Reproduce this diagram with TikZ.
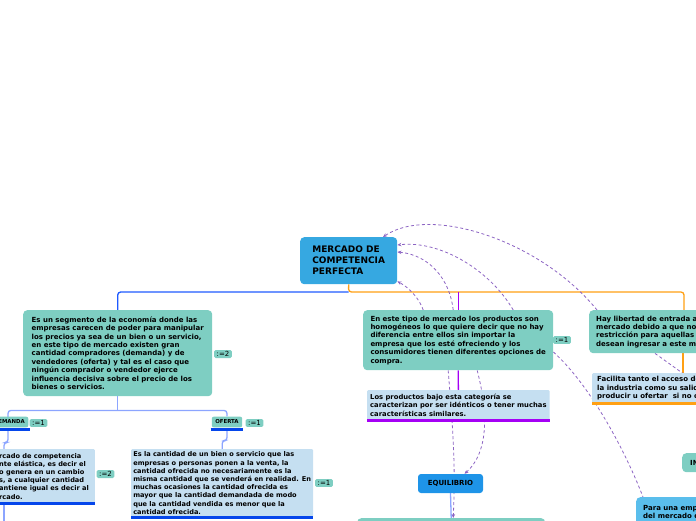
\documentclass[tikz,border=0pt]{standalone}
\usepackage{fontspec}
\setmainfont{DejaVu Sans}
\usepackage{xcolor}
\usetikzlibrary{arrows.meta,backgrounds}

\definecolor{topicblue}{RGB}{54,168,225}
\definecolor{tealfill}{RGB}{126,206,194}
\definecolor{notefill}{RGB}{197,223,241}
\definecolor{skyfill}{RGB}{90,190,236}
\definecolor{eqfill}{RGB}{30,148,232}
\definecolor{branchblue}{RGB}{30,90,255}
\definecolor{softblue}{RGB}{140,165,255}
\definecolor{barblue}{RGB}{5,70,235}
\definecolor{branchpurple}{RGB}{165,0,245}
\definecolor{branchorange}{RGB}{255,160,20}
\definecolor{relpurple}{RGB}{140,100,195}

\begin{document}
\begin{tikzpicture}[x=1pt, y=-1pt,
  font=\bfseries\fontsize{7}{8.4}\selectfont,
  topic/.style={fill=tealfill, rounded corners=4pt, anchor=north west,
                align=left, inner xsep=7pt, inner ysep=0pt},
  note/.style={fill=notefill, rounded corners=1pt, anchor=north west,
               align=left, inner xsep=5pt, inner ysep=0pt},
  small/.style={font=\bfseries\fontsize{6.6}{8.2}\selectfont},
  tagbox/.style={fill=tealfill, rounded corners=1.5pt, inner xsep=2.5pt, inner ysep=1.4pt,
                 font=\mdseries\fontsize{7}{7}\selectfont},
  headbox/.style={fill=tealfill, rounded corners=2pt, inner xsep=3.5pt, minimum height=10pt,
                  font=\bfseries\fontsize{5.4}{6}\selectfont},
  branch/.style={line width=1.3pt, rounded corners=3pt},
  underbar/.style={line width=2.6pt},
  relline/.style={relpurple, line width=0.8pt, dash pattern=on 3pt off 2.5pt},
  relarrow/.style={relline, -{Stealth[length=4pt, width=3.5pt]}}]
\useasboundingbox (0,0) rectangle (696,520);
% --- central topic ---
\node[fill=topicblue, rounded corners=4pt, anchor=north west, minimum width=97pt,
      minimum height=47pt, align=left, font=\bfseries\fontsize{9}{11}\selectfont]
  (mercado) at (300,237) {MERCADO DE\\COMPETENCIA\\PERFECTA};
% --- first level ---
\node[topic, minimum width=189pt, minimum height=86pt] (segmento) at (23,310)
  {Es un segmento de la economía donde las\\
   empresas carecen de poder para manipular\\
   los precios ya sea de un bien o un servicio,\\
   en este tipo de mercado existen gran\\
   cantidad compradores (demanda) y de\\
   vendedores (oferta) y tal es el caso que\\
   ningún comprador o vendedor ejerce\\
   influencia decisiva sobre el precio de los\\
   bienes o servicios.};
\node[topic, minimum width=190pt, minimum height=60pt] (homog) at (363,310)
  {En este tipo de mercado los productos son\\
   homogéneos lo que quiere decir que no hay\\
   diferencia entre ellos sin importar la\\
   empresa que los esté ofreciendo y los\\
   consumidores tienen diferentes opciones de\\
   compra.};
\node[topic, minimum height=43pt] (libertad) at (589,310)
  {Hay libertad de entrada a\\
   mercado debido a que no\\
   restricción para aquellas\\
   desean ingresar a este m};
\node[tagbox] (tagseg) at (223,354) {:=2};
\node[tagbox] (taghom) at (562,340) {:=1};
% --- demanda / oferta ---
\node[headbox, anchor=east] (demanda) at (28.5,422) {DEMANDA};
\node[tagbox] (tagdem) at (38.5,423) {:=1};
\node[headbox] (oferta) at (227,422) {OFERTA};
\node[tagbox] (tagof) at (254.5,423) {:=1};
\draw[underbar, barblue] ([shift={(-1pt,-2pt)}]demanda.south west) -- ([shift={(1pt,-2pt)}]demanda.south east);
\draw[underbar, barblue] ([shift={(-1pt,-2pt)}]oferta.south west) -- ([shift={(1pt,-2pt)}]oferta.south east);
\node[note, small, anchor=north east, inner xsep=6pt, minimum height=54pt] (dnote) at (95,449)
  {rcado de competencia\\
   nte elástica, es decir el\\
   o genera en un cambio\\
   s, a cualquier cantidad\\
   antiene igual es decir al\\
   rcado.};
\node[tagbox] (tagd) at (105.5,474) {:=2};
\node[note, small, inner xsep=2pt, minimum width=182pt, minimum height=68pt] (cantidad) at (131,449)
  {Es la cantidad de un bien o servicio que las\\
   empresas o personas ponen a la venta, la\\
   cantidad ofrecida no necesariamente es la\\
   misma cantidad que se venderá en realidad. En\\
   muchas ocasiones la cantidad ofrecida es\\
   mayor que la cantidad demandada de modo\\
   que la cantidad vendida es menor que la\\
   cantidad ofrecida.};
\node[tagbox] (tagcant) at (324,483) {:=1};
\draw[underbar, barblue] (dnote.south west) -- (dnote.south east);
\draw[underbar, barblue] (cantidad.south west) -- (cantidad.south east);
% --- productos, equilibrio ---
\node[note, inner xsep=3pt, font=\bfseries\fontsize{6.8}{8.3}\selectfont,
      minimum width=181pt, minimum height=30pt] (productos) at (367,390)
  {Los productos bajo esta categoría se\\
   caracterizan por ser idénticos o tener muchas\\
   características similares.};
\draw[underbar, branchpurple] (productos.south west) -- (productos.south east);
\node[fill=eqfill, rounded corners=3pt, minimum width=65pt, minimum height=19pt,
      font=\bfseries\fontsize{7}{8}\selectfont] (equilibrio) at (450.5,483.5) {EQUILIBRIO};
\node[topic, minimum width=188pt, minimum height=20pt] (abajo) at (357,518) {};
% --- right side ---
\node[note, minimum height=30pt] (facilita) at (592,373)
  {Facilita tanto el acceso de c\\
   la industria como su salida\\
   producir u ofertar\ \ si no obt};
\draw[underbar, branchorange] (facilita.south west) -- (facilita.south east);
\node[topic, minimum height=19pt, inner xsep=8pt, font=\bfseries\fontsize{7}{8}\selectfont]
  (intro) at (682,453) {IN};
\node[fill=skyfill, rounded corners=4pt, anchor=north west, align=left, inner xsep=7pt,
      inner ysep=4pt, minimum height=30pt] (empresa) at (636,497)
  {Para una emp\\del mercado d};
% --- branches ---
\begin{scope}[on background layer]
\coordinate (fork) at (348.5,292);
\coordinate (dtop) at (4,449);
\coordinate (dend) at (4,522);
\coordinate (offright) at (720,400);
\draw[branch, branchorange] (mercado.south) -- (fork) -| ([xshift=95pt]libertad.north west);
\draw[branch, branchorange] ([xshift=94pt]libertad.south west) -- ([xshift=91pt]facilita.north west);
\draw[branch, branchblue] (fork) -| (segmento.north);
\draw[branch, branchpurple] (fork -| homog.north) -- (homog.north);
\draw[branch, branchpurple] (homog.south) -- (productos.north);
\draw[branch, softblue] (segmento.south) -- ++(0,14) coordinate (split);
\draw[branch, softblue] (8,417) |- (split) -| (oferta.north);
\draw[branch, softblue] ([yshift=-3pt]demanda.south -| 8,0) -- ++(0,12) -| (dtop);
\draw[branch, softblue] ([yshift=-3pt]oferta.south) -- ++(0,10) -| (cantidad.north);
\draw[branch, softblue] (dtop |- dnote.south) -- (dend);
\draw[branch, softblue] (equilibrio.south) -- (abajo.north);
% --- relations ---
\draw[relarrow] ([xshift=8pt]libertad.north west) .. controls (540,240) and (430,205) .. ([xshift=83pt]mercado.north west);
\draw[relarrow] ([xshift=55pt]homog.north) .. controls (490,270) and (440,240) .. ([yshift=-8pt]mercado.north east);
\draw[relarrow] ([xshift=-5pt]homog.north) .. controls (450,280) and (430,255) .. ([yshift=-15pt]mercado.north east);
\draw[relarrow] ([xshift=-35pt]homog.north) .. controls (420,300) and (410,288) .. ([yshift=3pt]mercado.south east);
\draw[relarrow] ([xshift=-10pt]homog.south) .. controls (452,420) and (456,460) .. ([xshift=2pt]abajo.north);
\draw[relarrow] ([xshift=19pt]homog.south) .. controls (490,420) and (486,455) .. ([xshift=14pt]equilibrio.north);
\draw[relline] ([yshift=-42pt]homog.north east) .. controls (590,385) and (625,450) .. ([xshift=7pt]empresa.north west);
\draw[relline] ([xshift=66pt]libertad.south west) -- (offright);
\end{scope}
\end{tikzpicture}
\end{document}
